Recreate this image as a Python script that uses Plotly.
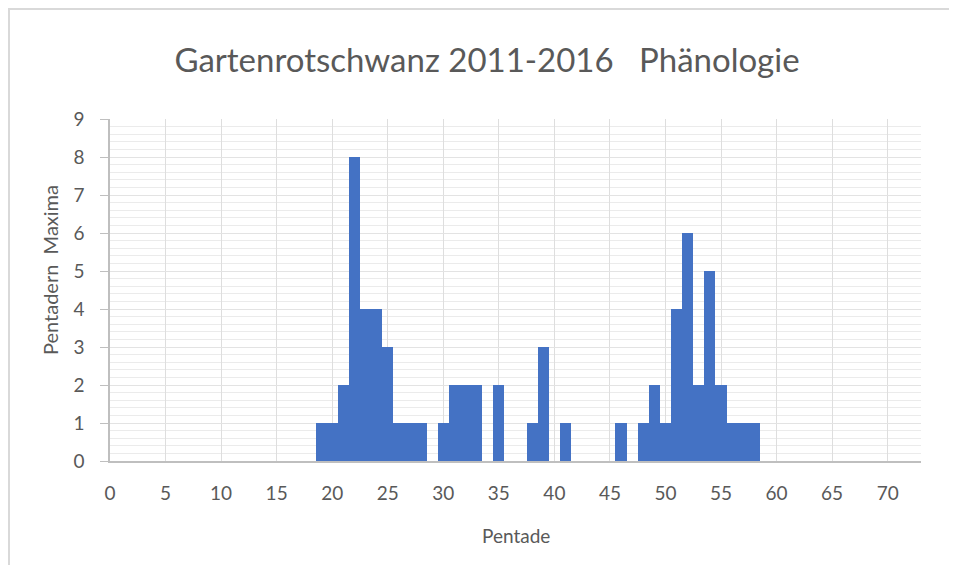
import plotly.graph_objects as go

pentade = list(range(0, 73))
maxima = [0] * 73
values = {19: 1, 20: 1, 21: 2, 22: 8, 23: 4, 24: 4, 25: 3, 26: 1, 27: 1, 28: 1,
          30: 1, 31: 2, 32: 2, 33: 2, 35: 2, 38: 1, 39: 3, 41: 1, 46: 1,
          48: 1, 49: 2, 50: 1, 51: 4, 52: 6, 53: 2, 54: 5, 55: 2, 56: 1, 57: 1, 58: 1}
for k, v in values.items():
    maxima[k] = v

title_text = "Gartenrotschwanz 2011-2016   Phänologie"
x_title = "Pentade"
y_title = "Pentadern  Maxima"
x_ticks = list(range(0, 75, 5))
y_ticks = list(range(0, 10))

FONT = "Lato"
GRAY = "#595959"

fig = go.Figure()
fig.add_trace(go.Bar(
    x=pentade, y=maxima, width=1.0,
    marker=dict(color="#4472C4", line=dict(width=0)),
))

# page body has an 8px margin; figure coordinates = screen - 8
W, H = 941, 557
L, R, T, B = 102, 28, 111, 104
pw, ph = W - L - R, H - T - B

fig.update_layout(
    width=W, height=H,
    margin=dict(l=L, r=R, t=T, b=B),
    paper_bgcolor="white", plot_bgcolor="white",
    showlegend=False,
    bargap=0,
    font=dict(family=FONT, color=GRAY),
    title=dict(text=title_text, x=479 / W, xref="container", xanchor="center",
               y=1 - 52 / H, yref="container", yanchor="middle",
               font=dict(size=33, color=GRAY, family=FONT)),
    xaxis=dict(range=[0, 73], tickmode="array", tickvals=x_ticks,
               ticktext=[str(v) for v in x_ticks],
               showgrid=True, gridcolor="#dedede", gridwidth=1,
               showline=True, linecolor="#bfbfbf", linewidth=1.5,
               ticks="", ticklabelstandoff=14,
               tickfont=dict(size=19, color=GRAY), zeroline=False),
    yaxis=dict(range=[0, 9], tickmode="array", tickvals=y_ticks,
               showgrid=True, gridcolor="#e3e3e3", gridwidth=1,
               minor=dict(dtick=0.2, showgrid=True, gridcolor="#ebebeb", gridwidth=1),
               showline=True, linecolor="#bfbfbf", linewidth=1.5,
               ticks="outside", ticklen=8, tickcolor="#bfbfbf",
               ticklabelstandoff=12,
               tickfont=dict(size=19, color=GRAY), zeroline=False),
    annotations=[
        dict(text=x_title, xref="paper", yref="paper",
             x=0.5, y=-(527 - (H - B)) / ph, xanchor="center", yanchor="middle",
             showarrow=False, font=dict(size=19, color=GRAY, family=FONT)),
        dict(text=y_title, xref="paper", yref="paper",
             x=-(L - 42) / pw, y=(H - B - 262) / ph, xanchor="center", yanchor="middle",
             textangle=-90, showarrow=False, font=dict(size=20, color=GRAY, family=FONT)),
    ],
    shapes=[
        dict(type="rect", xref="paper", yref="paper", layer="below",
             x0=(1 - L) / pw, x1=(W + 20 - L) / pw,
             y0=-(B + 20) / ph, y1=1 + (T - 1) / ph,
             line=dict(color="#d9d9d9", width=2), fillcolor="rgba(0,0,0,0)"),
    ],
)

fig.write_html("out.html")
